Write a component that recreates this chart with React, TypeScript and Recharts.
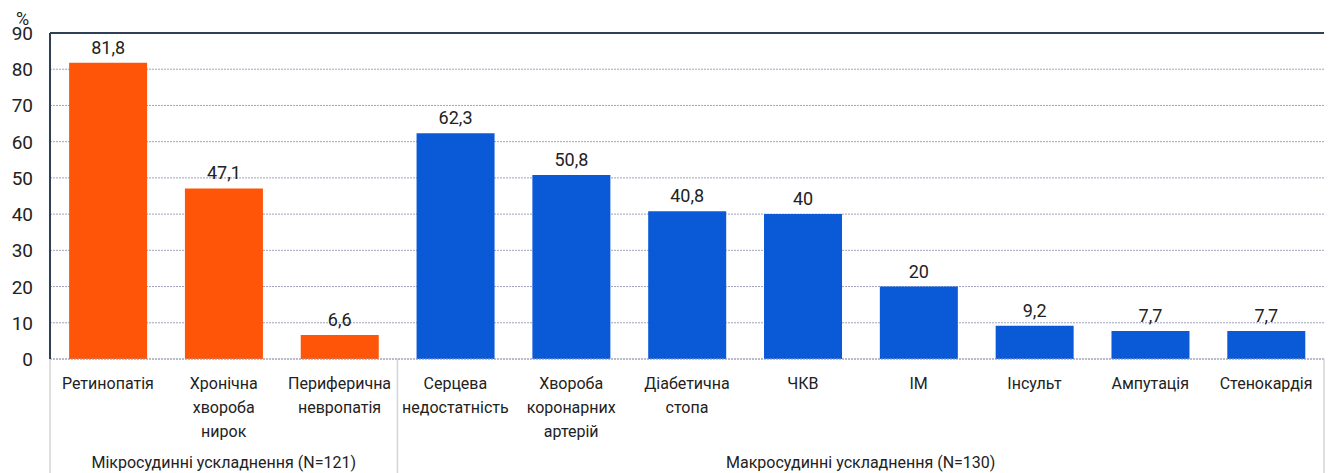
import React from "react";
import { BarChart, Bar, XAxis, YAxis, CartesianGrid, ReferenceLine, LabelList, Cell } from "recharts";

// chart data
const categories = [
  "Ретинопатія",
  "Хронічна\nхвороба\nнирок",
  "Периферична\nневропатія",
  "Серцева\nнедостатність",
  "Хвороба\nкоронарних\nартерій",
  "Діабетична\nстопа",
  "ЧКВ",
  "ІМ",
  "Інсульт",
  "Ампутація",
  "Стенокардія",
];
const values = [81.8, 47.1, 6.6, 62.3, 50.8, 40.8, 40, 20, 9.2, 7.7, 7.7];
const groups = ["micro", "micro", "micro", "macro", "macro", "macro", "macro", "macro", "macro", "macro", "macro"];
const groupLabels = [
  { key: "micro", label: "Мікросудинні ускладнення (N=121)" },
  { key: "macro", label: "Макросудинні ускладнення (N=130)" },
];
const yTicks = [0, 10, 20, 30, 40, 50, 60, 70, 80, 90];

const data = categories.map((name, i) => ({ name, value: values[i], group: groups[i] }));

const W = 1330;
const H = 473;
const LEFT = 50;
const RIGHT = 6;
const TOP = 33;
const XAXIS_H = 114;
const PLOT_W = W - LEFT - RIGHT;
const BAND = PLOT_W / categories.length;
const PLOT_BOTTOM = H - XAXIS_H;

const FONT = "Roboto, 'Open Sans', sans-serif";
const ORANGE = "#ff5508";
const BLUE = "#0a5ad8";
const FRAME = "#2f4054";
const SEP = "#d4d4d8";

const YTick = ({ y, payload }: any) => (
  <text x={33} y={y} dy={7} textAnchor="end" fontSize={19} fill="#222" fontFamily={FONT}>
    {payload.value}
  </text>
);

const XTick = ({ x, payload, index }: any) => {
  const lines = String(payload.value).split("\n");
  const g = groups[index];
  const first = groups.indexOf(g);
  const last = groups.lastIndexOf(g);
  const isFirst = index === first;
  const isMid = index === Math.floor((first + last) / 2);
  const midX = LEFT + ((first + last + 1) / 2) * BAND;
  const lbl = groupLabels.find((l) => l.key === g)?.label;
  return (
    <g>
      {lines.map((t, i) => (
        <text key={i} x={x} y={PLOT_BOTTOM + 30 + i * 24} textAnchor="middle" fontSize={16} fill="#222" fontFamily={FONT}>
          {t}
        </text>
      ))}
      {isFirst && <line x1={x - BAND / 2} x2={x - BAND / 2} y1={PLOT_BOTTOM} y2={H} stroke={SEP} strokeWidth={1.5} />}
      {index === categories.length - 1 && (
        <line x1={x + BAND / 2} x2={x + BAND / 2} y1={PLOT_BOTTOM} y2={H} stroke={SEP} strokeWidth={1.5} />
      )}
      {isMid && (
        <text x={midX} y={PLOT_BOTTOM + 109} textAnchor="middle" fontSize={16} fill="#222" fontFamily={FONT}>
          {lbl}
        </text>
      )}
    </g>
  );
};

export default function App() {
  return (
    <div style={{ position: "absolute", left: 0, top: 0, width: W, height: H, background: "#fff" }}>
      <BarChart
        width={W}
        height={H}
        data={data}
        margin={{ top: TOP, right: RIGHT, left: 0, bottom: 0 }}
        barCategoryGap="16.5%"
      >
        <CartesianGrid vertical={false} stroke="#a3a3bd" strokeDasharray="2 1" />
        <XAxis
          dataKey="name"
          interval={0}
          height={XAXIS_H}
          axisLine={false}
          tickLine={false}
          tick={<XTick />}
        />
        <YAxis
          domain={[0, 90]}
          ticks={yTicks}
          width={LEFT}
          axisLine={{ stroke: FRAME, strokeWidth: 2 }}
          tickLine={false}
          tick={<YTick />}
        />
        <YAxis
          yAxisId="frame"
          orientation="right"
          width={0}
          tick={false}
          tickLine={false}
          axisLine={{ stroke: FRAME, strokeWidth: 2 }}
        />
        <ReferenceLine y={90} stroke={FRAME} strokeWidth={2} />
        <ReferenceLine y={0} stroke="#a3a3bd" strokeDasharray="2 1" />
        <Bar dataKey="value" isAnimationActive={false}>
          {data.map((d, i) => (
            <Cell key={i} fill={d.group === "micro" ? ORANGE : BLUE} />
          ))}
          <LabelList
            dataKey="value"
            position="top"
            offset={9}
            fontSize={18}
            fill="#222"
            fontFamily={FONT}
            formatter={(v: any) => String(v).replace(".", ",")}
          />
        </Bar>
        <text x={16} y={25} fontSize={18} fill="#222" fontFamily={FONT}>
          %
        </text>
      </BarChart>
    </div>
  );
}
